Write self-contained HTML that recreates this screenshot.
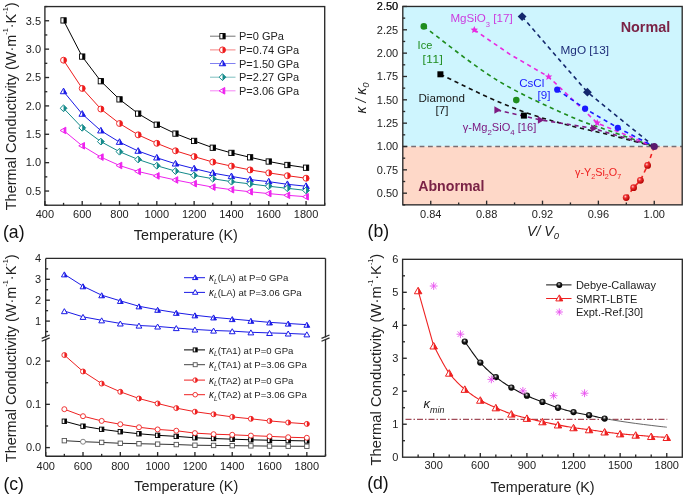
<!DOCTYPE html>
<html><head><meta charset="utf-8"><style>
html,body{margin:0;padding:0;background:#fff;}
svg{display:block;font-family:"Liberation Sans",sans-serif;will-change:transform;}
</style></head><body>
<svg width="685" height="497" viewBox="0 0 685 497">
<defs>
<radialGradient id="gblk" cx="0.45" cy="0.4" r="0.6" fx="0.45" fy="0.35"><stop offset="0" stop-color="#ffffff"/><stop offset="0.22" stop-color="#777"/><stop offset="0.5" stop-color="#151515"/><stop offset="1" stop-color="#000"/></radialGradient>
<radialGradient id="gred" cx="0.38" cy="0.35" r="0.65"><stop offset="0" stop-color="#ffd0d0"/><stop offset="0.35" stop-color="#f03030"/><stop offset="1" stop-color="#b00000"/></radialGradient>
</defs>
<rect width="685" height="497" fill="#fff"/>
<polyline points="63.55,20.42 82.21,56.58 100.86,81.21 119.52,99.37 138.17,113.62 156.82,124.69 175.48,133.6 194.13,140.92 212.79,147.73 231.44,152.9 250.09,157.32 268.75,161.52 287.4,164.99 306.06,167.71" fill="none" stroke="#000000" stroke-width="1.0" />
<polyline points="63.55,60.21 82.21,88.42 100.86,109.02 119.52,123.5 138.17,134.85 156.82,143.3 175.48,150.8 194.13,156.59 212.79,162.04 231.44,166.12 250.09,169.93 268.75,172.88 287.4,175.71 306.06,178.21" fill="none" stroke="#ee1c1c" stroke-width="1.0" />
<polyline points="63.55,91.48 82.21,114.02 100.86,130.7 119.52,142.11 138.17,151.02 156.82,157.78 175.48,163.8 194.13,168.62 212.79,173.1 231.44,176.4 250.09,179.57 268.75,181.67 287.4,184.29 306.06,186.22" fill="none" stroke="#1a1ae6" stroke-width="1.0" />
<polyline points="63.55,108.28 82.21,127.81 100.86,141.6 119.52,151.71 138.17,159.48 156.82,165.73 175.48,171.12 194.13,175.37 212.79,178.72 231.44,181.67 250.09,183.89 268.75,186.22 287.4,188.32 306.06,190.42" fill="none" stroke="#138a8a" stroke-width="1.0" />
<polyline points="63.55,130.48 82.21,145.8 100.86,157.1 119.52,165.5 138.17,171.51 156.82,175.89 175.48,179.97 194.13,183.66 212.79,187.12 231.44,189.68 250.09,191.78 268.75,193.59 287.4,195.3 306.06,196.72" fill="none" stroke="#ee22ee" stroke-width="1.0" />
<rect x="60.9" y="17.77" width="5.3" height="5.3" fill="#fff" stroke="#000000" stroke-width="0.9"/>
<rect x="63.55" y="17.77" width="2.65" height="5.3" fill="#000000"/>
<rect x="79.56" y="53.93" width="5.3" height="5.3" fill="#fff" stroke="#000000" stroke-width="0.9"/>
<rect x="82.21" y="53.93" width="2.65" height="5.3" fill="#000000"/>
<rect x="98.21" y="78.56" width="5.3" height="5.3" fill="#fff" stroke="#000000" stroke-width="0.9"/>
<rect x="100.86" y="78.56" width="2.65" height="5.3" fill="#000000"/>
<rect x="116.87" y="96.72" width="5.3" height="5.3" fill="#fff" stroke="#000000" stroke-width="0.9"/>
<rect x="119.52" y="96.72" width="2.65" height="5.3" fill="#000000"/>
<rect x="135.52" y="110.97" width="5.3" height="5.3" fill="#fff" stroke="#000000" stroke-width="0.9"/>
<rect x="138.17" y="110.97" width="2.65" height="5.3" fill="#000000"/>
<rect x="154.17" y="122.04" width="5.3" height="5.3" fill="#fff" stroke="#000000" stroke-width="0.9"/>
<rect x="156.82" y="122.04" width="2.65" height="5.3" fill="#000000"/>
<rect x="172.83" y="130.95" width="5.3" height="5.3" fill="#fff" stroke="#000000" stroke-width="0.9"/>
<rect x="175.48" y="130.95" width="2.65" height="5.3" fill="#000000"/>
<rect x="191.48" y="138.27" width="5.3" height="5.3" fill="#fff" stroke="#000000" stroke-width="0.9"/>
<rect x="194.13" y="138.27" width="2.65" height="5.3" fill="#000000"/>
<rect x="210.14" y="145.08" width="5.3" height="5.3" fill="#fff" stroke="#000000" stroke-width="0.9"/>
<rect x="212.79" y="145.08" width="2.65" height="5.3" fill="#000000"/>
<rect x="228.79" y="150.25" width="5.3" height="5.3" fill="#fff" stroke="#000000" stroke-width="0.9"/>
<rect x="231.44" y="150.25" width="2.65" height="5.3" fill="#000000"/>
<rect x="247.44" y="154.67" width="5.3" height="5.3" fill="#fff" stroke="#000000" stroke-width="0.9"/>
<rect x="250.09" y="154.67" width="2.65" height="5.3" fill="#000000"/>
<rect x="266.1" y="158.87" width="5.3" height="5.3" fill="#fff" stroke="#000000" stroke-width="0.9"/>
<rect x="268.75" y="158.87" width="2.65" height="5.3" fill="#000000"/>
<rect x="284.75" y="162.34" width="5.3" height="5.3" fill="#fff" stroke="#000000" stroke-width="0.9"/>
<rect x="287.4" y="162.34" width="2.65" height="5.3" fill="#000000"/>
<rect x="303.41" y="165.06" width="5.3" height="5.3" fill="#fff" stroke="#000000" stroke-width="0.9"/>
<rect x="306.06" y="165.06" width="2.65" height="5.3" fill="#000000"/>
<circle cx="63.55" cy="60.21" r="3" fill="#fff" stroke="#ee1c1c" stroke-width="0.9"/>
<path d="M63.55,57.21 A3,3 0 0 1 63.55,63.21 Z" fill="#ee1c1c"/>
<circle cx="82.21" cy="88.42" r="3" fill="#fff" stroke="#ee1c1c" stroke-width="0.9"/>
<path d="M82.21,85.42 A3,3 0 0 1 82.21,91.42 Z" fill="#ee1c1c"/>
<circle cx="100.86" cy="109.02" r="3" fill="#fff" stroke="#ee1c1c" stroke-width="0.9"/>
<path d="M100.86,106.02 A3,3 0 0 1 100.86,112.02 Z" fill="#ee1c1c"/>
<circle cx="119.52" cy="123.5" r="3" fill="#fff" stroke="#ee1c1c" stroke-width="0.9"/>
<path d="M119.52,120.5 A3,3 0 0 1 119.52,126.5 Z" fill="#ee1c1c"/>
<circle cx="138.17" cy="134.85" r="3" fill="#fff" stroke="#ee1c1c" stroke-width="0.9"/>
<path d="M138.17,131.85 A3,3 0 0 1 138.17,137.85 Z" fill="#ee1c1c"/>
<circle cx="156.82" cy="143.3" r="3" fill="#fff" stroke="#ee1c1c" stroke-width="0.9"/>
<path d="M156.82,140.3 A3,3 0 0 1 156.82,146.3 Z" fill="#ee1c1c"/>
<circle cx="175.48" cy="150.8" r="3" fill="#fff" stroke="#ee1c1c" stroke-width="0.9"/>
<path d="M175.48,147.8 A3,3 0 0 1 175.48,153.8 Z" fill="#ee1c1c"/>
<circle cx="194.13" cy="156.59" r="3" fill="#fff" stroke="#ee1c1c" stroke-width="0.9"/>
<path d="M194.13,153.59 A3,3 0 0 1 194.13,159.59 Z" fill="#ee1c1c"/>
<circle cx="212.79" cy="162.04" r="3" fill="#fff" stroke="#ee1c1c" stroke-width="0.9"/>
<path d="M212.79,159.04 A3,3 0 0 1 212.79,165.04 Z" fill="#ee1c1c"/>
<circle cx="231.44" cy="166.12" r="3" fill="#fff" stroke="#ee1c1c" stroke-width="0.9"/>
<path d="M231.44,163.12 A3,3 0 0 1 231.44,169.12 Z" fill="#ee1c1c"/>
<circle cx="250.09" cy="169.93" r="3" fill="#fff" stroke="#ee1c1c" stroke-width="0.9"/>
<path d="M250.09,166.93 A3,3 0 0 1 250.09,172.93 Z" fill="#ee1c1c"/>
<circle cx="268.75" cy="172.88" r="3" fill="#fff" stroke="#ee1c1c" stroke-width="0.9"/>
<path d="M268.75,169.88 A3,3 0 0 1 268.75,175.88 Z" fill="#ee1c1c"/>
<circle cx="287.4" cy="175.71" r="3" fill="#fff" stroke="#ee1c1c" stroke-width="0.9"/>
<path d="M287.4,172.71 A3,3 0 0 1 287.4,178.71 Z" fill="#ee1c1c"/>
<circle cx="306.06" cy="178.21" r="3" fill="#fff" stroke="#ee1c1c" stroke-width="0.9"/>
<path d="M306.06,175.21 A3,3 0 0 1 306.06,181.21 Z" fill="#ee1c1c"/>
<polygon points="63.55,88.11 60.3,93.73 66.8,93.73" fill="#fff" stroke="#1a1ae6" stroke-width="1.0" stroke-linejoin="miter"/>
<polygon points="63.55,88.11 63.55,93.73 66.8,93.73" fill="#1a1ae6"/>
<polygon points="82.21,110.64 78.96,116.27 85.46,116.27" fill="#fff" stroke="#1a1ae6" stroke-width="1.0" stroke-linejoin="miter"/>
<polygon points="82.21,110.64 82.21,116.27 85.46,116.27" fill="#1a1ae6"/>
<polygon points="100.86,127.33 97.61,132.96 104.11,132.96" fill="#fff" stroke="#1a1ae6" stroke-width="1.0" stroke-linejoin="miter"/>
<polygon points="100.86,127.33 100.86,132.96 104.11,132.96" fill="#1a1ae6"/>
<polygon points="119.52,138.74 116.27,144.36 122.77,144.36" fill="#fff" stroke="#1a1ae6" stroke-width="1.0" stroke-linejoin="miter"/>
<polygon points="119.52,138.74 119.52,144.36 122.77,144.36" fill="#1a1ae6"/>
<polygon points="138.17,147.65 134.92,153.28 141.42,153.28" fill="#fff" stroke="#1a1ae6" stroke-width="1.0" stroke-linejoin="miter"/>
<polygon points="138.17,147.65 138.17,153.28 141.42,153.28" fill="#1a1ae6"/>
<polygon points="156.82,154.4 153.57,160.03 160.07,160.03" fill="#fff" stroke="#1a1ae6" stroke-width="1.0" stroke-linejoin="miter"/>
<polygon points="156.82,154.4 156.82,160.03 160.07,160.03" fill="#1a1ae6"/>
<polygon points="175.48,160.42 172.23,166.05 178.73,166.05" fill="#fff" stroke="#1a1ae6" stroke-width="1.0" stroke-linejoin="miter"/>
<polygon points="175.48,160.42 175.48,166.05 178.73,166.05" fill="#1a1ae6"/>
<polygon points="194.13,165.24 190.88,170.87 197.38,170.87" fill="#fff" stroke="#1a1ae6" stroke-width="1.0" stroke-linejoin="miter"/>
<polygon points="194.13,165.24 194.13,170.87 197.38,170.87" fill="#1a1ae6"/>
<polygon points="212.79,169.73 209.54,175.36 216.04,175.36" fill="#fff" stroke="#1a1ae6" stroke-width="1.0" stroke-linejoin="miter"/>
<polygon points="212.79,169.73 212.79,175.36 216.04,175.36" fill="#1a1ae6"/>
<polygon points="231.44,173.02 228.19,178.65 234.69,178.65" fill="#fff" stroke="#1a1ae6" stroke-width="1.0" stroke-linejoin="miter"/>
<polygon points="231.44,173.02 231.44,178.65 234.69,178.65" fill="#1a1ae6"/>
<polygon points="250.09,176.2 246.84,181.83 253.34,181.83" fill="#fff" stroke="#1a1ae6" stroke-width="1.0" stroke-linejoin="miter"/>
<polygon points="250.09,176.2 250.09,181.83 253.34,181.83" fill="#1a1ae6"/>
<polygon points="268.75,178.3 265.5,183.93 272,183.93" fill="#fff" stroke="#1a1ae6" stroke-width="1.0" stroke-linejoin="miter"/>
<polygon points="268.75,178.3 268.75,183.93 272,183.93" fill="#1a1ae6"/>
<polygon points="287.4,180.91 284.15,186.54 290.65,186.54" fill="#fff" stroke="#1a1ae6" stroke-width="1.0" stroke-linejoin="miter"/>
<polygon points="287.4,180.91 287.4,186.54 290.65,186.54" fill="#1a1ae6"/>
<polygon points="306.06,182.84 302.81,188.47 309.31,188.47" fill="#fff" stroke="#1a1ae6" stroke-width="1.0" stroke-linejoin="miter"/>
<polygon points="306.06,182.84 306.06,188.47 309.31,188.47" fill="#1a1ae6"/>
<polygon points="63.55,104.88 66.95,108.28 63.55,111.68 60.15,108.28" fill="#fff" stroke="#138a8a" stroke-width="1.0"/>
<polygon points="63.55,104.88 66.95,108.28 63.55,111.68" fill="#138a8a"/>
<polygon points="82.21,124.41 85.61,127.81 82.21,131.21 78.81,127.81" fill="#fff" stroke="#138a8a" stroke-width="1.0"/>
<polygon points="82.21,124.41 85.61,127.81 82.21,131.21" fill="#138a8a"/>
<polygon points="100.86,138.2 104.26,141.6 100.86,145 97.46,141.6" fill="#fff" stroke="#138a8a" stroke-width="1.0"/>
<polygon points="100.86,138.2 104.26,141.6 100.86,145" fill="#138a8a"/>
<polygon points="119.52,148.31 122.92,151.71 119.52,155.11 116.12,151.71" fill="#fff" stroke="#138a8a" stroke-width="1.0"/>
<polygon points="119.52,148.31 122.92,151.71 119.52,155.11" fill="#138a8a"/>
<polygon points="138.17,156.08 141.57,159.48 138.17,162.88 134.77,159.48" fill="#fff" stroke="#138a8a" stroke-width="1.0"/>
<polygon points="138.17,156.08 141.57,159.48 138.17,162.88" fill="#138a8a"/>
<polygon points="156.82,162.33 160.22,165.73 156.82,169.13 153.42,165.73" fill="#fff" stroke="#138a8a" stroke-width="1.0"/>
<polygon points="156.82,162.33 160.22,165.73 156.82,169.13" fill="#138a8a"/>
<polygon points="175.48,167.72 178.88,171.12 175.48,174.52 172.08,171.12" fill="#fff" stroke="#138a8a" stroke-width="1.0"/>
<polygon points="175.48,167.72 178.88,171.12 175.48,174.52" fill="#138a8a"/>
<polygon points="194.13,171.97 197.53,175.37 194.13,178.77 190.73,175.37" fill="#fff" stroke="#138a8a" stroke-width="1.0"/>
<polygon points="194.13,171.97 197.53,175.37 194.13,178.77" fill="#138a8a"/>
<polygon points="212.79,175.32 216.19,178.72 212.79,182.12 209.39,178.72" fill="#fff" stroke="#138a8a" stroke-width="1.0"/>
<polygon points="212.79,175.32 216.19,178.72 212.79,182.12" fill="#138a8a"/>
<polygon points="231.44,178.27 234.84,181.67 231.44,185.07 228.04,181.67" fill="#fff" stroke="#138a8a" stroke-width="1.0"/>
<polygon points="231.44,178.27 234.84,181.67 231.44,185.07" fill="#138a8a"/>
<polygon points="250.09,180.49 253.49,183.89 250.09,187.29 246.69,183.89" fill="#fff" stroke="#138a8a" stroke-width="1.0"/>
<polygon points="250.09,180.49 253.49,183.89 250.09,187.29" fill="#138a8a"/>
<polygon points="268.75,182.82 272.15,186.22 268.75,189.62 265.35,186.22" fill="#fff" stroke="#138a8a" stroke-width="1.0"/>
<polygon points="268.75,182.82 272.15,186.22 268.75,189.62" fill="#138a8a"/>
<polygon points="287.4,184.92 290.8,188.32 287.4,191.72 284,188.32" fill="#fff" stroke="#138a8a" stroke-width="1.0"/>
<polygon points="287.4,184.92 290.8,188.32 287.4,191.72" fill="#138a8a"/>
<polygon points="306.06,187.02 309.46,190.42 306.06,193.82 302.66,190.42" fill="#fff" stroke="#138a8a" stroke-width="1.0"/>
<polygon points="306.06,187.02 309.46,190.42 306.06,193.82" fill="#138a8a"/>
<polygon points="60.12,130.48 65.84,127.18 65.84,133.78" fill="#fff" stroke="#ee22ee" stroke-width="1.0"/>
<polygon points="63.55,128.5 65.84,127.18 65.84,133.78 63.55,132.46" fill="#ee22ee"/>
<polygon points="78.78,145.8 84.49,142.5 84.49,149.1" fill="#fff" stroke="#ee22ee" stroke-width="1.0"/>
<polygon points="82.21,143.82 84.49,142.5 84.49,149.1 82.21,147.78" fill="#ee22ee"/>
<polygon points="97.43,157.1 103.15,153.8 103.15,160.4" fill="#fff" stroke="#ee22ee" stroke-width="1.0"/>
<polygon points="100.86,155.12 103.15,153.8 103.15,160.4 100.86,159.08" fill="#ee22ee"/>
<polygon points="116.09,165.5 121.8,162.2 121.8,168.8" fill="#fff" stroke="#ee22ee" stroke-width="1.0"/>
<polygon points="119.52,163.52 121.8,162.2 121.8,168.8 119.52,167.48" fill="#ee22ee"/>
<polygon points="134.74,171.51 140.46,168.21 140.46,174.81" fill="#fff" stroke="#ee22ee" stroke-width="1.0"/>
<polygon points="138.17,169.53 140.46,168.21 140.46,174.81 138.17,173.49" fill="#ee22ee"/>
<polygon points="153.39,175.89 159.11,172.59 159.11,179.19" fill="#fff" stroke="#ee22ee" stroke-width="1.0"/>
<polygon points="156.82,173.91 159.11,172.59 159.11,179.19 156.82,177.87" fill="#ee22ee"/>
<polygon points="172.05,179.97 177.76,176.67 177.76,183.27" fill="#fff" stroke="#ee22ee" stroke-width="1.0"/>
<polygon points="175.48,177.99 177.76,176.67 177.76,183.27 175.48,181.95" fill="#ee22ee"/>
<polygon points="190.7,183.66 196.42,180.36 196.42,186.96" fill="#fff" stroke="#ee22ee" stroke-width="1.0"/>
<polygon points="194.13,181.68 196.42,180.36 196.42,186.96 194.13,185.64" fill="#ee22ee"/>
<polygon points="209.36,187.12 215.07,183.82 215.07,190.42" fill="#fff" stroke="#ee22ee" stroke-width="1.0"/>
<polygon points="212.79,185.14 215.07,183.82 215.07,190.42 212.79,189.1" fill="#ee22ee"/>
<polygon points="228.01,189.68 233.73,186.38 233.73,192.98" fill="#fff" stroke="#ee22ee" stroke-width="1.0"/>
<polygon points="231.44,187.7 233.73,186.38 233.73,192.98 231.44,191.66" fill="#ee22ee"/>
<polygon points="246.66,191.78 252.38,188.48 252.38,195.08" fill="#fff" stroke="#ee22ee" stroke-width="1.0"/>
<polygon points="250.09,189.8 252.38,188.48 252.38,195.08 250.09,193.76" fill="#ee22ee"/>
<polygon points="265.32,193.59 271.03,190.29 271.03,196.89" fill="#fff" stroke="#ee22ee" stroke-width="1.0"/>
<polygon points="268.75,191.61 271.03,190.29 271.03,196.89 268.75,195.57" fill="#ee22ee"/>
<polygon points="283.97,195.3 289.69,192 289.69,198.6" fill="#fff" stroke="#ee22ee" stroke-width="1.0"/>
<polygon points="287.4,193.32 289.69,192 289.69,198.6 287.4,197.28" fill="#ee22ee"/>
<polygon points="302.63,196.72 308.34,193.42 308.34,200.02" fill="#fff" stroke="#ee22ee" stroke-width="1.0"/>
<polygon points="306.06,194.74 308.34,193.42 308.34,200.02 306.06,198.7" fill="#ee22ee"/>
<rect x="44.9" y="6.57" width="279.81" height="198.66" fill="none" stroke="#2a2a2a" stroke-width="1.35"/>
<line x1="44.9" y1="205.23" x2="44.9" y2="201.03" stroke="#2a2a2a" stroke-width="1.35" />
<text x="44.9" y="217.8" font-size="11" text-anchor="middle" fill="#222" >400</text>
<line x1="63.55" y1="205.23" x2="63.55" y2="202.83" stroke="#2a2a2a" stroke-width="1.35" />
<line x1="82.21" y1="205.23" x2="82.21" y2="201.03" stroke="#2a2a2a" stroke-width="1.35" />
<text x="82.21" y="217.8" font-size="11" text-anchor="middle" fill="#222" >600</text>
<line x1="100.86" y1="205.23" x2="100.86" y2="202.83" stroke="#2a2a2a" stroke-width="1.35" />
<line x1="119.52" y1="205.23" x2="119.52" y2="201.03" stroke="#2a2a2a" stroke-width="1.35" />
<text x="119.52" y="217.8" font-size="11" text-anchor="middle" fill="#222" >800</text>
<line x1="138.17" y1="205.23" x2="138.17" y2="202.83" stroke="#2a2a2a" stroke-width="1.35" />
<line x1="156.82" y1="205.23" x2="156.82" y2="201.03" stroke="#2a2a2a" stroke-width="1.35" />
<text x="156.82" y="217.8" font-size="11" text-anchor="middle" fill="#222" >1000</text>
<line x1="175.48" y1="205.23" x2="175.48" y2="202.83" stroke="#2a2a2a" stroke-width="1.35" />
<line x1="194.13" y1="205.23" x2="194.13" y2="201.03" stroke="#2a2a2a" stroke-width="1.35" />
<text x="194.13" y="217.8" font-size="11" text-anchor="middle" fill="#222" >1200</text>
<line x1="212.79" y1="205.23" x2="212.79" y2="202.83" stroke="#2a2a2a" stroke-width="1.35" />
<line x1="231.44" y1="205.23" x2="231.44" y2="201.03" stroke="#2a2a2a" stroke-width="1.35" />
<text x="231.44" y="217.8" font-size="11" text-anchor="middle" fill="#222" >1400</text>
<line x1="250.09" y1="205.23" x2="250.09" y2="202.83" stroke="#2a2a2a" stroke-width="1.35" />
<line x1="268.75" y1="205.23" x2="268.75" y2="201.03" stroke="#2a2a2a" stroke-width="1.35" />
<text x="268.75" y="217.8" font-size="11" text-anchor="middle" fill="#222" >1600</text>
<line x1="287.4" y1="205.23" x2="287.4" y2="202.83" stroke="#2a2a2a" stroke-width="1.35" />
<line x1="306.06" y1="205.23" x2="306.06" y2="201.03" stroke="#2a2a2a" stroke-width="1.35" />
<text x="306.06" y="217.8" font-size="11" text-anchor="middle" fill="#222" >1800</text>
<line x1="324.71" y1="205.23" x2="324.71" y2="202.83" stroke="#2a2a2a" stroke-width="1.35" />
<line x1="44.9" y1="205.23" x2="47.3" y2="205.23" stroke="#2a2a2a" stroke-width="1.35" />
<line x1="44.9" y1="191.04" x2="49.1" y2="191.04" stroke="#2a2a2a" stroke-width="1.35" />
<text x="41" y="194.84" font-size="11" text-anchor="end" fill="#222" >0.5</text>
<line x1="44.9" y1="176.85" x2="47.3" y2="176.85" stroke="#2a2a2a" stroke-width="1.35" />
<line x1="44.9" y1="162.66" x2="49.1" y2="162.66" stroke="#2a2a2a" stroke-width="1.35" />
<text x="41" y="166.46" font-size="11" text-anchor="end" fill="#222" >1.0</text>
<line x1="44.9" y1="148.47" x2="47.3" y2="148.47" stroke="#2a2a2a" stroke-width="1.35" />
<line x1="44.9" y1="134.28" x2="49.1" y2="134.28" stroke="#2a2a2a" stroke-width="1.35" />
<text x="41" y="138.08" font-size="11" text-anchor="end" fill="#222" >1.5</text>
<line x1="44.9" y1="120.09" x2="47.3" y2="120.09" stroke="#2a2a2a" stroke-width="1.35" />
<line x1="44.9" y1="105.9" x2="49.1" y2="105.9" stroke="#2a2a2a" stroke-width="1.35" />
<text x="41" y="109.7" font-size="11" text-anchor="end" fill="#222" >2.0</text>
<line x1="44.9" y1="91.71" x2="47.3" y2="91.71" stroke="#2a2a2a" stroke-width="1.35" />
<line x1="44.9" y1="77.52" x2="49.1" y2="77.52" stroke="#2a2a2a" stroke-width="1.35" />
<text x="41" y="81.32" font-size="11" text-anchor="end" fill="#222" >2.5</text>
<line x1="44.9" y1="63.33" x2="47.3" y2="63.33" stroke="#2a2a2a" stroke-width="1.35" />
<line x1="44.9" y1="49.14" x2="49.1" y2="49.14" stroke="#2a2a2a" stroke-width="1.35" />
<text x="41" y="52.94" font-size="11" text-anchor="end" fill="#222" >3.0</text>
<line x1="44.9" y1="34.95" x2="47.3" y2="34.95" stroke="#2a2a2a" stroke-width="1.35" />
<line x1="44.9" y1="20.76" x2="49.1" y2="20.76" stroke="#2a2a2a" stroke-width="1.35" />
<text x="41" y="24.56" font-size="11" text-anchor="end" fill="#222" >3.5</text>
<line x1="44.9" y1="6.57" x2="47.3" y2="6.57" stroke="#2a2a2a" stroke-width="1.35" />
<line x1="210" y1="36.2" x2="235.5" y2="36.2" stroke="#000000" stroke-width="1.0" stroke-opacity="0.55"/>
<rect x="219.85" y="33.55" width="5.3" height="5.3" fill="#fff" stroke="#000000" stroke-width="0.9"/>
<rect x="222.5" y="33.55" width="2.65" height="5.3" fill="#000000"/>
<text x="239" y="40.2" font-size="11" text-anchor="start" fill="#222" >P=0 GPa</text>
<line x1="210" y1="49.9" x2="235.5" y2="49.9" stroke="#ee1c1c" stroke-width="1.0" stroke-opacity="0.55"/>
<circle cx="222.5" cy="49.9" r="3" fill="#fff" stroke="#ee1c1c" stroke-width="0.9"/>
<path d="M222.5,46.9 A3,3 0 0 1 222.5,52.9 Z" fill="#ee1c1c"/>
<text x="239" y="53.9" font-size="11" text-anchor="start" fill="#222" >P=0.74 GPa</text>
<line x1="210" y1="63.5" x2="235.5" y2="63.5" stroke="#1a1ae6" stroke-width="1.0" stroke-opacity="0.55"/>
<polygon points="222.5,60.12 219.25,65.75 225.75,65.75" fill="#fff" stroke="#1a1ae6" stroke-width="1.0" stroke-linejoin="miter"/>
<polygon points="222.5,60.12 222.5,65.75 225.75,65.75" fill="#1a1ae6"/>
<text x="239" y="67.5" font-size="11" text-anchor="start" fill="#222" >P=1.50 GPa</text>
<line x1="210" y1="77.2" x2="235.5" y2="77.2" stroke="#138a8a" stroke-width="1.0" stroke-opacity="0.55"/>
<polygon points="222.5,73.8 225.9,77.2 222.5,80.6 219.1,77.2" fill="#fff" stroke="#138a8a" stroke-width="1.0"/>
<polygon points="222.5,73.8 225.9,77.2 222.5,80.6" fill="#138a8a"/>
<text x="239" y="81.2" font-size="11" text-anchor="start" fill="#222" >P=2.27 GPa</text>
<line x1="210" y1="90.8" x2="235.5" y2="90.8" stroke="#ee22ee" stroke-width="1.0" stroke-opacity="0.55"/>
<polygon points="219.07,90.8 224.79,87.5 224.79,94.1" fill="#fff" stroke="#ee22ee" stroke-width="1.0"/>
<polygon points="222.5,88.82 224.79,87.5 224.79,94.1 222.5,92.78" fill="#ee22ee"/>
<text x="239" y="94.8" font-size="11" text-anchor="start" fill="#222" >P=3.06 GPa</text>
<rect x="402.8" y="6.46" width="279.4" height="140.04" fill="#cef5fe"/>
<rect x="402.8" y="146.5" width="279.4" height="58.35" fill="#fed8c8"/>
<line x1="402.8" y1="146.5" x2="682.2" y2="146.5" stroke="#7a6d72" stroke-width="1.7" stroke-dasharray="4.8 3.6"/>
<path d="M423.8,26.4 C435.8,35.23 471.82,64.58 495.8,79.4 C519.78,94.22 548.67,106.7 567.7,115.3 C586.73,123.9 595.57,125.8 610,131 C624.43,136.2 646.88,143.92 654.26,146.5" fill="none" stroke="#1e8c1e" stroke-width="1.6" stroke-dasharray="4.2 3.7"/>
<path d="M440.4,74.3 C448.67,78.27 475.07,91.48 490,98.1 C504.93,104.72 517.05,109.52 530,114 C542.95,118.48 554.37,121.5 567.7,125 C581.03,128.5 595.57,131.42 610,135 C624.43,138.58 646.88,144.58 654.26,146.5" fill="none" stroke="#111" stroke-width="1.6" stroke-dasharray="4.2 3.7"/>
<polyline points="497,110.1 540.5,119.9 593.7,128.5 654.26,146.5" fill="none" stroke="#7d1a80" stroke-width="1.6" stroke-dasharray="4.2 3.7"/>
<polyline points="474.3,29.9 510,54.4 548.6,76.8 597.4,123.2 654.26,146.5" fill="none" stroke="#e828e0" stroke-width="1.6" stroke-dasharray="4.2 3.7"/>
<polyline points="557.2,89.7 585.1,108.7 617.8,127.8 654.26,146.5" fill="none" stroke="#1a1aff" stroke-width="1.6" stroke-dasharray="4.2 3.7"/>
<polyline points="522.1,16.6 587.4,92.2 654.26,146.5" fill="none" stroke="#14286e" stroke-width="1.6" stroke-dasharray="4.2 3.7"/>
<polyline points="654.26,146.5 647.6,165.4 640.4,180.3 633.6,187.7 626.2,197.6" fill="none" stroke="#ee2020" stroke-width="1.6" stroke-dasharray="4.2 3.7"/>
<circle cx="423.8" cy="26.4" r="3.3" fill="#1e8c1e"/>
<circle cx="516.3" cy="100.1" r="3.3" fill="#1e8c1e"/>
<polygon points="474.3,26 475.33,28.48 478.01,28.69 475.96,30.44 476.59,33.06 474.3,31.65 472.01,33.06 472.64,30.44 470.59,28.69 473.27,28.48" fill="#e828e0"/>
<polygon points="548.6,72.9 549.63,75.38 552.31,75.59 550.26,77.34 550.89,79.96 548.6,78.55 546.31,79.96 546.94,77.34 544.89,75.59 547.57,75.38" fill="#e828e0"/>
<polygon points="597.2,118.9 598.23,121.38 600.91,121.59 598.86,123.34 599.49,125.96 597.2,124.55 594.91,125.96 595.54,123.34 593.49,121.59 596.17,121.38" fill="#e828e0"/>
<polygon points="522.1,12.2 526.5,16.6 522.1,21 517.7,16.6" fill="#14286e"/>
<polygon points="587.4,87.8 591.8,92.2 587.4,96.6 583,92.2" fill="#14286e"/>
<rect x="437.4" y="71.3" width="6" height="6" fill="#000"/>
<rect x="520.9" y="112.6" width="6" height="6" fill="#000"/>
<circle cx="557.2" cy="89.7" r="3.1" fill="#1a1aff"/>
<circle cx="585.1" cy="108.7" r="3.1" fill="#1a1aff"/>
<circle cx="617.8" cy="127.8" r="3.1" fill="#1a1aff"/>
<polygon points="500.9,110.1 494.4,106.35 494.4,113.85" fill="#7d1a80"/>
<polygon points="544.4,119.9 537.9,116.15 537.9,123.65" fill="#7d1a80"/>
<polygon points="597.6,128.2 591.1,124.45 591.1,131.95" fill="#7d1a80"/>
<circle cx="647.6" cy="165.4" r="3.4" fill="url(#gred)"/>
<circle cx="640.4" cy="180.3" r="3.4" fill="url(#gred)"/>
<circle cx="633.6" cy="187.7" r="3.4" fill="url(#gred)"/>
<circle cx="626.2" cy="197.6" r="3.4" fill="url(#gred)"/>
<circle cx="654.26" cy="146.5" r="3.6" fill="#5a1a6e"/>
<rect x="402.8" y="6.46" width="279.4" height="198.39" fill="none" stroke="#2a2a2a" stroke-width="1.35"/>
<line x1="430.74" y1="204.85" x2="430.74" y2="200.65" stroke="#2a2a2a" stroke-width="1.35" />
<text x="430.74" y="218.4" font-size="11" text-anchor="middle" fill="#222" >0.84</text>
<line x1="458.68" y1="204.85" x2="458.68" y2="202.45" stroke="#2a2a2a" stroke-width="1.35" />
<line x1="486.62" y1="204.85" x2="486.62" y2="200.65" stroke="#2a2a2a" stroke-width="1.35" />
<text x="486.62" y="218.4" font-size="11" text-anchor="middle" fill="#222" >0.88</text>
<line x1="514.56" y1="204.85" x2="514.56" y2="202.45" stroke="#2a2a2a" stroke-width="1.35" />
<line x1="542.5" y1="204.85" x2="542.5" y2="200.65" stroke="#2a2a2a" stroke-width="1.35" />
<text x="542.5" y="218.4" font-size="11" text-anchor="middle" fill="#222" >0.92</text>
<line x1="570.44" y1="204.85" x2="570.44" y2="202.45" stroke="#2a2a2a" stroke-width="1.35" />
<line x1="598.38" y1="204.85" x2="598.38" y2="200.65" stroke="#2a2a2a" stroke-width="1.35" />
<text x="598.38" y="218.4" font-size="11" text-anchor="middle" fill="#222" >0.96</text>
<line x1="626.32" y1="204.85" x2="626.32" y2="202.45" stroke="#2a2a2a" stroke-width="1.35" />
<line x1="654.26" y1="204.85" x2="654.26" y2="200.65" stroke="#2a2a2a" stroke-width="1.35" />
<text x="654.26" y="218.4" font-size="11" text-anchor="middle" fill="#222" >1.00</text>
<line x1="402.8" y1="204.85" x2="405.2" y2="204.85" stroke="#2a2a2a" stroke-width="1.35" />
<line x1="402.8" y1="193.18" x2="407" y2="193.18" stroke="#2a2a2a" stroke-width="1.35" />
<text x="398.2" y="196.98" font-size="11" text-anchor="end" fill="#222" >0.50</text>
<line x1="402.8" y1="181.51" x2="405.2" y2="181.51" stroke="#2a2a2a" stroke-width="1.35" />
<line x1="402.8" y1="169.84" x2="407" y2="169.84" stroke="#2a2a2a" stroke-width="1.35" />
<text x="398.2" y="173.64" font-size="11" text-anchor="end" fill="#222" >0.75</text>
<line x1="402.8" y1="158.17" x2="405.2" y2="158.17" stroke="#2a2a2a" stroke-width="1.35" />
<line x1="402.8" y1="146.5" x2="407" y2="146.5" stroke="#2a2a2a" stroke-width="1.35" />
<text x="398.2" y="150.3" font-size="11" text-anchor="end" fill="#222" >1.00</text>
<line x1="402.8" y1="134.83" x2="405.2" y2="134.83" stroke="#2a2a2a" stroke-width="1.35" />
<line x1="402.8" y1="123.16" x2="407" y2="123.16" stroke="#2a2a2a" stroke-width="1.35" />
<text x="398.2" y="126.96" font-size="11" text-anchor="end" fill="#222" >1.25</text>
<line x1="402.8" y1="111.49" x2="405.2" y2="111.49" stroke="#2a2a2a" stroke-width="1.35" />
<line x1="402.8" y1="99.82" x2="407" y2="99.82" stroke="#2a2a2a" stroke-width="1.35" />
<text x="398.2" y="103.62" font-size="11" text-anchor="end" fill="#222" >1.50</text>
<line x1="402.8" y1="88.15" x2="405.2" y2="88.15" stroke="#2a2a2a" stroke-width="1.35" />
<line x1="402.8" y1="76.48" x2="407" y2="76.48" stroke="#2a2a2a" stroke-width="1.35" />
<text x="398.2" y="80.28" font-size="11" text-anchor="end" fill="#222" >1.75</text>
<line x1="402.8" y1="64.81" x2="405.2" y2="64.81" stroke="#2a2a2a" stroke-width="1.35" />
<line x1="402.8" y1="53.14" x2="407" y2="53.14" stroke="#2a2a2a" stroke-width="1.35" />
<text x="398.2" y="56.94" font-size="11" text-anchor="end" fill="#222" >2.00</text>
<line x1="402.8" y1="41.47" x2="405.2" y2="41.47" stroke="#2a2a2a" stroke-width="1.35" />
<line x1="402.8" y1="29.8" x2="407" y2="29.8" stroke="#2a2a2a" stroke-width="1.35" />
<text x="398.2" y="33.6" font-size="11" text-anchor="end" fill="#222" >2.25</text>
<line x1="402.8" y1="18.13" x2="405.2" y2="18.13" stroke="#2a2a2a" stroke-width="1.35" />
<line x1="402.8" y1="6.46" x2="407" y2="6.46" stroke="#2a2a2a" stroke-width="1.35" />
<text x="398.2" y="10.26" font-size="11" text-anchor="end" fill="#222" >2.50</text>
<text x="398.2" y="10.26" font-size="11" text-anchor="end" fill="#222" >2.50</text>
<text x="450.4" y="22.3" font-size="11.6" text-anchor="start" fill="#cc3ade" >MgSiO<tspan font-size="7.6" dy="4.2">3</tspan><tspan dy="-4.2"> [17]</tspan></text>
<text x="417.6" y="49.2" font-size="11.0" text-anchor="start" fill="#1e8c1e" >Ice</text>
<text x="422.6" y="62.9" font-size="11.8" text-anchor="start" fill="#1e8c1e" letter-spacing="0.5">[11]</text>
<text x="560.5" y="53.5" font-size="11.8" text-anchor="start" fill="#1e2d78" >MgO [13]</text>
<text x="620.7" y="31.8" font-size="14.4" text-anchor="start" fill="#7a2346" font-weight="bold">Normal</text>
<text x="418.5" y="102.2" font-size="11.6" text-anchor="start" fill="#1a1a1a" >Diamond</text>
<text x="435.5" y="114.2" font-size="11.6" text-anchor="start" fill="#1a1a1a" >[7]</text>
<text x="519.2" y="87.4" font-size="11.6" text-anchor="start" fill="#1a1aff" >CsCl</text>
<text x="537.6" y="98.8" font-size="11.6" text-anchor="start" fill="#1a1aff" >[9]</text>
<text x="462.8" y="131.4" font-size="11.1" text-anchor="start" fill="#7d1a80" >γ-Mg<tspan font-size="7.8" dy="3.4">2</tspan><tspan dy="-3.4">SiO</tspan><tspan font-size="7.8" dy="3.4">4</tspan><tspan dy="-3.4"> [16]</tspan></text>
<text x="418.2" y="190.8" font-size="14.2" text-anchor="start" fill="#7a2346" font-weight="bold">Abnormal</text>
<text x="575" y="175.6" font-size="10.8" text-anchor="start" fill="#ee2020" >γ-Y<tspan font-size="7.2" dy="3.4">2</tspan><tspan dy="-3.4">Si</tspan><tspan font-size="7.2" dy="3.4">2</tspan><tspan dy="-3.4">O</tspan><tspan font-size="7.2" dy="3.4">7</tspan></text>
<text x="527" y="235.8" font-size="14.2" text-anchor="start" fill="#222" font-style="italic">V/ V<tspan font-size="9.5" dy="3.5">0</tspan></text>
<text transform="translate(365.8,98) rotate(-90)" font-size="14" text-anchor="middle" fill="#222" font-style="italic">κ / κ<tspan font-size="9.5" dy="3.5">0</tspan></text>
<polyline points="64.35,274.28 83.01,286.2 101.66,295.18 120.31,300.83 138.97,306.26 157.62,309.71 176.27,312.74 194.92,315.25 213.58,317.34 232.23,319.01 250.88,320.68 269.54,322.35 288.19,323.5 306.84,324.65" fill="none" stroke="#1a1ae6" stroke-width="1.0" />
<polyline points="64.35,311.07 83.01,316.82 101.66,320.26 120.31,323.4 138.97,325.49 157.62,326.43 176.27,328 194.92,329.46 213.58,330.5 232.23,331.13 250.88,332.28 269.54,332.91 288.19,333.43 306.84,334.27" fill="none" stroke="#1a1ae6" stroke-width="1.0" />
<polyline points="64.35,355.05 83.01,371.48 101.66,383.59 120.31,391.81 138.97,398.51 157.62,403.49 176.27,408.11 194.92,411.7 213.58,414.3 232.23,416.89 250.88,418.8 269.54,420.91 288.19,422.52 306.84,423.9" fill="none" stroke="#ee2020" stroke-width="1.0" />
<polyline points="64.35,409.19 83.01,416.2 101.66,420.91 120.31,424.25 138.97,427.27 157.62,429.44 176.27,430.73 194.92,433.11 213.58,434.19 232.23,434.8 250.88,435.62 269.54,436.36 288.19,437.22 306.84,437.78" fill="none" stroke="#ee2020" stroke-width="1.0" />
<polyline points="64.35,421.22 83.01,426.19 101.66,429.31 120.31,431.73 138.97,433.76 157.62,435.32 176.27,436.36 194.92,437.78 213.58,438.52 232.23,439.17 250.88,439.81 269.54,440.25 288.19,440.59 306.84,440.9" fill="none" stroke="#000" stroke-width="1.0" />
<polyline points="64.35,440.68 83.01,441.72 101.66,442.41 120.31,443.28 138.97,443.71 157.62,444.14 176.27,444.57 194.92,445.22 213.58,445.44 232.23,445.65 250.88,445.87 269.54,446.09 288.19,446.22 306.84,446.3" fill="none" stroke="#333" stroke-width="1.0" />
<polygon points="64.35,271.87 61.45,276.89 67.25,276.89" fill="#fff" stroke="#1a1ae6" stroke-width="1.0" stroke-linejoin="miter"/>
<polygon points="64.35,271.87 64.35,276.89 67.25,276.89" fill="#1a1ae6"/>
<polygon points="83.01,283.78 80.11,288.81 85.91,288.81" fill="#fff" stroke="#1a1ae6" stroke-width="1.0" stroke-linejoin="miter"/>
<polygon points="83.01,283.78 83.01,288.81 85.91,288.81" fill="#1a1ae6"/>
<polygon points="101.66,292.77 98.76,297.79 104.56,297.79" fill="#fff" stroke="#1a1ae6" stroke-width="1.0" stroke-linejoin="miter"/>
<polygon points="101.66,292.77 101.66,297.79 104.56,297.79" fill="#1a1ae6"/>
<polygon points="120.31,298.41 117.41,303.44 123.21,303.44" fill="#fff" stroke="#1a1ae6" stroke-width="1.0" stroke-linejoin="miter"/>
<polygon points="120.31,298.41 120.31,303.44 123.21,303.44" fill="#1a1ae6"/>
<polygon points="138.97,303.85 136.06,308.87 141.87,308.87" fill="#fff" stroke="#1a1ae6" stroke-width="1.0" stroke-linejoin="miter"/>
<polygon points="138.97,303.85 138.97,308.87 141.87,308.87" fill="#1a1ae6"/>
<polygon points="157.62,307.3 154.72,312.32 160.52,312.32" fill="#fff" stroke="#1a1ae6" stroke-width="1.0" stroke-linejoin="miter"/>
<polygon points="157.62,307.3 157.62,312.32 160.52,312.32" fill="#1a1ae6"/>
<polygon points="176.27,310.33 173.37,315.35 179.17,315.35" fill="#fff" stroke="#1a1ae6" stroke-width="1.0" stroke-linejoin="miter"/>
<polygon points="176.27,310.33 176.27,315.35 179.17,315.35" fill="#1a1ae6"/>
<polygon points="194.92,312.83 192.02,317.86 197.82,317.86" fill="#fff" stroke="#1a1ae6" stroke-width="1.0" stroke-linejoin="miter"/>
<polygon points="194.92,312.83 194.92,317.86 197.82,317.86" fill="#1a1ae6"/>
<polygon points="213.58,314.92 210.68,319.95 216.48,319.95" fill="#fff" stroke="#1a1ae6" stroke-width="1.0" stroke-linejoin="miter"/>
<polygon points="213.58,314.92 213.58,319.95 216.48,319.95" fill="#1a1ae6"/>
<polygon points="232.23,316.6 229.33,321.62 235.13,321.62" fill="#fff" stroke="#1a1ae6" stroke-width="1.0" stroke-linejoin="miter"/>
<polygon points="232.23,316.6 232.23,321.62 235.13,321.62" fill="#1a1ae6"/>
<polygon points="250.88,318.27 247.98,323.29 253.78,323.29" fill="#fff" stroke="#1a1ae6" stroke-width="1.0" stroke-linejoin="miter"/>
<polygon points="250.88,318.27 250.88,323.29 253.78,323.29" fill="#1a1ae6"/>
<polygon points="269.54,319.94 266.64,324.96 272.44,324.96" fill="#fff" stroke="#1a1ae6" stroke-width="1.0" stroke-linejoin="miter"/>
<polygon points="269.54,319.94 269.54,324.96 272.44,324.96" fill="#1a1ae6"/>
<polygon points="288.19,321.09 285.29,326.11 291.09,326.11" fill="#fff" stroke="#1a1ae6" stroke-width="1.0" stroke-linejoin="miter"/>
<polygon points="288.19,321.09 288.19,326.11 291.09,326.11" fill="#1a1ae6"/>
<polygon points="306.84,322.24 303.94,327.26 309.74,327.26" fill="#fff" stroke="#1a1ae6" stroke-width="1.0" stroke-linejoin="miter"/>
<polygon points="306.84,322.24 306.84,327.26 309.74,327.26" fill="#1a1ae6"/>
<polygon points="64.35,308.65 61.45,313.68 67.25,313.68" fill="#fff" stroke="#1a1ae6" stroke-width="1.0" stroke-linejoin="miter"/>
<polygon points="83.01,314.4 80.11,319.42 85.91,319.42" fill="#fff" stroke="#1a1ae6" stroke-width="1.0" stroke-linejoin="miter"/>
<polygon points="101.66,317.85 98.76,322.87 104.56,322.87" fill="#fff" stroke="#1a1ae6" stroke-width="1.0" stroke-linejoin="miter"/>
<polygon points="120.31,320.99 117.41,326.01 123.21,326.01" fill="#fff" stroke="#1a1ae6" stroke-width="1.0" stroke-linejoin="miter"/>
<polygon points="138.97,323.08 136.06,328.1 141.87,328.1" fill="#fff" stroke="#1a1ae6" stroke-width="1.0" stroke-linejoin="miter"/>
<polygon points="157.62,324.02 154.72,329.04 160.52,329.04" fill="#fff" stroke="#1a1ae6" stroke-width="1.0" stroke-linejoin="miter"/>
<polygon points="176.27,325.58 173.37,330.61 179.17,330.61" fill="#fff" stroke="#1a1ae6" stroke-width="1.0" stroke-linejoin="miter"/>
<polygon points="194.92,327.05 192.02,332.07 197.82,332.07" fill="#fff" stroke="#1a1ae6" stroke-width="1.0" stroke-linejoin="miter"/>
<polygon points="213.58,328.09 210.68,333.11 216.48,333.11" fill="#fff" stroke="#1a1ae6" stroke-width="1.0" stroke-linejoin="miter"/>
<polygon points="232.23,328.72 229.33,333.74 235.13,333.74" fill="#fff" stroke="#1a1ae6" stroke-width="1.0" stroke-linejoin="miter"/>
<polygon points="250.88,329.87 247.98,334.89 253.78,334.89" fill="#fff" stroke="#1a1ae6" stroke-width="1.0" stroke-linejoin="miter"/>
<polygon points="269.54,330.49 266.64,335.52 272.44,335.52" fill="#fff" stroke="#1a1ae6" stroke-width="1.0" stroke-linejoin="miter"/>
<polygon points="288.19,331.02 285.29,336.04 291.09,336.04" fill="#fff" stroke="#1a1ae6" stroke-width="1.0" stroke-linejoin="miter"/>
<polygon points="306.84,331.85 303.94,336.88 309.74,336.88" fill="#fff" stroke="#1a1ae6" stroke-width="1.0" stroke-linejoin="miter"/>
<rect x="62.15" y="438.48" width="4.4" height="4.4" fill="#fff" stroke="#555" stroke-width="0.9"/>
<circle cx="83.01" cy="441.72" r="2.5" fill="#fff" stroke="#777" stroke-width="0.9"/>
<rect x="99.46" y="440.21" width="4.4" height="4.4" fill="#fff" stroke="#555" stroke-width="0.9"/>
<rect x="118.11" y="441.08" width="4.4" height="4.4" fill="#fff" stroke="#555" stroke-width="0.9"/>
<rect x="136.77" y="441.51" width="4.4" height="4.4" fill="#fff" stroke="#555" stroke-width="0.9"/>
<rect x="155.42" y="441.94" width="4.4" height="4.4" fill="#fff" stroke="#555" stroke-width="0.9"/>
<rect x="174.07" y="442.37" width="4.4" height="4.4" fill="#fff" stroke="#555" stroke-width="0.9"/>
<rect x="192.72" y="443.02" width="4.4" height="4.4" fill="#fff" stroke="#555" stroke-width="0.9"/>
<rect x="211.38" y="443.24" width="4.4" height="4.4" fill="#fff" stroke="#555" stroke-width="0.9"/>
<rect x="230.03" y="443.45" width="4.4" height="4.4" fill="#fff" stroke="#555" stroke-width="0.9"/>
<rect x="248.68" y="443.67" width="4.4" height="4.4" fill="#fff" stroke="#555" stroke-width="0.9"/>
<rect x="267.34" y="443.89" width="4.4" height="4.4" fill="#fff" stroke="#555" stroke-width="0.9"/>
<rect x="285.99" y="444.02" width="4.4" height="4.4" fill="#fff" stroke="#555" stroke-width="0.9"/>
<rect x="304.64" y="444.1" width="4.4" height="4.4" fill="#fff" stroke="#555" stroke-width="0.9"/>
<rect x="62.15" y="419.02" width="4.4" height="4.4" fill="#fff" stroke="#000" stroke-width="0.9"/>
<rect x="64.35" y="419.02" width="2.2" height="4.4" fill="#000"/>
<rect x="80.81" y="423.99" width="4.4" height="4.4" fill="#fff" stroke="#000" stroke-width="0.9"/>
<rect x="83.01" y="423.99" width="2.2" height="4.4" fill="#000"/>
<rect x="99.46" y="427.11" width="4.4" height="4.4" fill="#fff" stroke="#000" stroke-width="0.9"/>
<rect x="101.66" y="427.11" width="2.2" height="4.4" fill="#000"/>
<rect x="118.11" y="429.53" width="4.4" height="4.4" fill="#fff" stroke="#000" stroke-width="0.9"/>
<rect x="120.31" y="429.53" width="2.2" height="4.4" fill="#000"/>
<rect x="136.77" y="431.56" width="4.4" height="4.4" fill="#fff" stroke="#000" stroke-width="0.9"/>
<rect x="138.97" y="431.56" width="2.2" height="4.4" fill="#000"/>
<rect x="155.42" y="433.12" width="4.4" height="4.4" fill="#fff" stroke="#000" stroke-width="0.9"/>
<rect x="157.62" y="433.12" width="2.2" height="4.4" fill="#000"/>
<rect x="174.07" y="434.16" width="4.4" height="4.4" fill="#fff" stroke="#000" stroke-width="0.9"/>
<rect x="176.27" y="434.16" width="2.2" height="4.4" fill="#000"/>
<rect x="192.72" y="435.58" width="4.4" height="4.4" fill="#fff" stroke="#000" stroke-width="0.9"/>
<rect x="194.92" y="435.58" width="2.2" height="4.4" fill="#000"/>
<rect x="211.38" y="436.32" width="4.4" height="4.4" fill="#fff" stroke="#000" stroke-width="0.9"/>
<rect x="213.58" y="436.32" width="2.2" height="4.4" fill="#000"/>
<rect x="230.03" y="436.97" width="4.4" height="4.4" fill="#fff" stroke="#000" stroke-width="0.9"/>
<rect x="232.23" y="436.97" width="2.2" height="4.4" fill="#000"/>
<rect x="248.68" y="437.62" width="4.4" height="4.4" fill="#fff" stroke="#000" stroke-width="0.9"/>
<rect x="250.88" y="437.62" width="2.2" height="4.4" fill="#000"/>
<rect x="267.34" y="438.05" width="4.4" height="4.4" fill="#fff" stroke="#000" stroke-width="0.9"/>
<rect x="269.54" y="438.05" width="2.2" height="4.4" fill="#000"/>
<rect x="285.99" y="438.39" width="4.4" height="4.4" fill="#fff" stroke="#000" stroke-width="0.9"/>
<rect x="288.19" y="438.39" width="2.2" height="4.4" fill="#000"/>
<rect x="304.64" y="438.7" width="4.4" height="4.4" fill="#fff" stroke="#000" stroke-width="0.9"/>
<rect x="306.84" y="438.7" width="2.2" height="4.4" fill="#000"/>
<circle cx="64.35" cy="409.19" r="2.5" fill="#fff" stroke="#ee2020" stroke-width="0.9"/>
<circle cx="83.01" cy="416.2" r="2.5" fill="#fff" stroke="#ee2020" stroke-width="0.9"/>
<circle cx="101.66" cy="420.91" r="2.5" fill="#fff" stroke="#ee2020" stroke-width="0.9"/>
<circle cx="120.31" cy="424.25" r="2.5" fill="#fff" stroke="#ee2020" stroke-width="0.9"/>
<circle cx="138.97" cy="427.27" r="2.5" fill="#fff" stroke="#ee2020" stroke-width="0.9"/>
<circle cx="157.62" cy="429.44" r="2.5" fill="#fff" stroke="#ee2020" stroke-width="0.9"/>
<circle cx="176.27" cy="430.73" r="2.5" fill="#fff" stroke="#ee2020" stroke-width="0.9"/>
<circle cx="194.92" cy="433.11" r="2.5" fill="#fff" stroke="#ee2020" stroke-width="0.9"/>
<circle cx="213.58" cy="434.19" r="2.5" fill="#fff" stroke="#ee2020" stroke-width="0.9"/>
<circle cx="232.23" cy="434.8" r="2.5" fill="#fff" stroke="#ee2020" stroke-width="0.9"/>
<circle cx="250.88" cy="435.62" r="2.5" fill="#fff" stroke="#ee2020" stroke-width="0.9"/>
<circle cx="269.54" cy="436.36" r="2.5" fill="#fff" stroke="#ee2020" stroke-width="0.9"/>
<circle cx="288.19" cy="437.22" r="2.5" fill="#fff" stroke="#ee2020" stroke-width="0.9"/>
<circle cx="306.84" cy="437.78" r="2.5" fill="#fff" stroke="#ee2020" stroke-width="0.9"/>
<circle cx="64.35" cy="355.05" r="2.5" fill="#fff" stroke="#ee2020" stroke-width="0.9"/>
<path d="M64.35,352.55 A2.5,2.5 0 0 1 64.35,357.55 Z" fill="#ee2020"/>
<circle cx="83.01" cy="371.48" r="2.5" fill="#fff" stroke="#ee2020" stroke-width="0.9"/>
<path d="M83.01,368.98 A2.5,2.5 0 0 1 83.01,373.98 Z" fill="#ee2020"/>
<circle cx="101.66" cy="383.59" r="2.5" fill="#fff" stroke="#ee2020" stroke-width="0.9"/>
<path d="M101.66,381.09 A2.5,2.5 0 0 1 101.66,386.09 Z" fill="#ee2020"/>
<circle cx="120.31" cy="391.81" r="2.5" fill="#fff" stroke="#ee2020" stroke-width="0.9"/>
<path d="M120.31,389.31 A2.5,2.5 0 0 1 120.31,394.31 Z" fill="#ee2020"/>
<circle cx="138.97" cy="398.51" r="2.5" fill="#fff" stroke="#ee2020" stroke-width="0.9"/>
<path d="M138.97,396.01 A2.5,2.5 0 0 1 138.97,401.01 Z" fill="#ee2020"/>
<circle cx="157.62" cy="403.49" r="2.5" fill="#fff" stroke="#ee2020" stroke-width="0.9"/>
<path d="M157.62,400.99 A2.5,2.5 0 0 1 157.62,405.99 Z" fill="#ee2020"/>
<circle cx="176.27" cy="408.11" r="2.5" fill="#fff" stroke="#ee2020" stroke-width="0.9"/>
<path d="M176.27,405.61 A2.5,2.5 0 0 1 176.27,410.61 Z" fill="#ee2020"/>
<circle cx="194.92" cy="411.7" r="2.5" fill="#fff" stroke="#ee2020" stroke-width="0.9"/>
<path d="M194.92,409.2 A2.5,2.5 0 0 1 194.92,414.2 Z" fill="#ee2020"/>
<circle cx="213.58" cy="414.3" r="2.5" fill="#fff" stroke="#ee2020" stroke-width="0.9"/>
<path d="M213.58,411.8 A2.5,2.5 0 0 1 213.58,416.8 Z" fill="#ee2020"/>
<circle cx="232.23" cy="416.89" r="2.5" fill="#fff" stroke="#ee2020" stroke-width="0.9"/>
<path d="M232.23,414.39 A2.5,2.5 0 0 1 232.23,419.39 Z" fill="#ee2020"/>
<circle cx="250.88" cy="418.8" r="2.5" fill="#fff" stroke="#ee2020" stroke-width="0.9"/>
<path d="M250.88,416.3 A2.5,2.5 0 0 1 250.88,421.3 Z" fill="#ee2020"/>
<circle cx="269.54" cy="420.91" r="2.5" fill="#fff" stroke="#ee2020" stroke-width="0.9"/>
<path d="M269.54,418.41 A2.5,2.5 0 0 1 269.54,423.41 Z" fill="#ee2020"/>
<circle cx="288.19" cy="422.52" r="2.5" fill="#fff" stroke="#ee2020" stroke-width="0.9"/>
<path d="M288.19,420.02 A2.5,2.5 0 0 1 288.19,425.02 Z" fill="#ee2020"/>
<circle cx="306.84" cy="423.9" r="2.5" fill="#fff" stroke="#ee2020" stroke-width="0.9"/>
<path d="M306.84,421.4 A2.5,2.5 0 0 1 306.84,426.4 Z" fill="#ee2020"/>
<line x1="45.7" y1="258.4" x2="325.5" y2="258.4" stroke="#2a2a2a" stroke-width="1.35" />
<line x1="45.7" y1="456.25" x2="325.5" y2="456.25" stroke="#2a2a2a" stroke-width="1.35" />
<line x1="45.7" y1="258.4" x2="45.7" y2="337.38" stroke="#2a2a2a" stroke-width="1.35" />
<line x1="45.7" y1="338.88" x2="45.7" y2="456.25" stroke="#2a2a2a" stroke-width="1.35" />
<line x1="325.5" y1="258.4" x2="325.5" y2="337.38" stroke="#2a2a2a" stroke-width="1.35" />
<line x1="325.5" y1="338.88" x2="325.5" y2="456.25" stroke="#2a2a2a" stroke-width="1.35" />
<line x1="41.7" y1="338.38" x2="49.7" y2="334.97" stroke="#2a2a2a" stroke-width="1.2" />
<line x1="41.7" y1="341.28" x2="49.7" y2="337.88" stroke="#2a2a2a" stroke-width="1.2" />
<line x1="321.5" y1="338.38" x2="329.5" y2="334.97" stroke="#2a2a2a" stroke-width="1.2" />
<line x1="321.5" y1="341.28" x2="329.5" y2="337.88" stroke="#2a2a2a" stroke-width="1.2" />
<line x1="45.7" y1="456.25" x2="45.7" y2="452.05" stroke="#2a2a2a" stroke-width="1.35" />
<text x="45.7" y="469.7" font-size="11" text-anchor="middle" fill="#222" >400</text>
<line x1="64.35" y1="456.25" x2="64.35" y2="453.85" stroke="#2a2a2a" stroke-width="1.35" />
<line x1="83.01" y1="456.25" x2="83.01" y2="452.05" stroke="#2a2a2a" stroke-width="1.35" />
<text x="83.01" y="469.7" font-size="11" text-anchor="middle" fill="#222" >600</text>
<line x1="101.66" y1="456.25" x2="101.66" y2="453.85" stroke="#2a2a2a" stroke-width="1.35" />
<line x1="120.31" y1="456.25" x2="120.31" y2="452.05" stroke="#2a2a2a" stroke-width="1.35" />
<text x="120.31" y="469.7" font-size="11" text-anchor="middle" fill="#222" >800</text>
<line x1="138.97" y1="456.25" x2="138.97" y2="453.85" stroke="#2a2a2a" stroke-width="1.35" />
<line x1="157.62" y1="456.25" x2="157.62" y2="452.05" stroke="#2a2a2a" stroke-width="1.35" />
<text x="157.62" y="469.7" font-size="11" text-anchor="middle" fill="#222" >1000</text>
<line x1="176.27" y1="456.25" x2="176.27" y2="453.85" stroke="#2a2a2a" stroke-width="1.35" />
<line x1="194.92" y1="456.25" x2="194.92" y2="452.05" stroke="#2a2a2a" stroke-width="1.35" />
<text x="194.92" y="469.7" font-size="11" text-anchor="middle" fill="#222" >1200</text>
<line x1="213.58" y1="456.25" x2="213.58" y2="453.85" stroke="#2a2a2a" stroke-width="1.35" />
<line x1="232.23" y1="456.25" x2="232.23" y2="452.05" stroke="#2a2a2a" stroke-width="1.35" />
<text x="232.23" y="469.7" font-size="11" text-anchor="middle" fill="#222" >1400</text>
<line x1="250.88" y1="456.25" x2="250.88" y2="453.85" stroke="#2a2a2a" stroke-width="1.35" />
<line x1="269.54" y1="456.25" x2="269.54" y2="452.05" stroke="#2a2a2a" stroke-width="1.35" />
<text x="269.54" y="469.7" font-size="11" text-anchor="middle" fill="#222" >1600</text>
<line x1="288.19" y1="456.25" x2="288.19" y2="453.85" stroke="#2a2a2a" stroke-width="1.35" />
<line x1="306.84" y1="456.25" x2="306.84" y2="452.05" stroke="#2a2a2a" stroke-width="1.35" />
<text x="306.84" y="469.7" font-size="11" text-anchor="middle" fill="#222" >1800</text>
<line x1="325.5" y1="456.25" x2="325.5" y2="453.85" stroke="#2a2a2a" stroke-width="1.35" />
<line x1="45.7" y1="331.55" x2="48.1" y2="331.55" stroke="#2a2a2a" stroke-width="1.35" />
<line x1="45.7" y1="321.1" x2="49.9" y2="321.1" stroke="#2a2a2a" stroke-width="1.35" />
<text x="41.2" y="324.9" font-size="11" text-anchor="end" fill="#222" >1</text>
<line x1="45.7" y1="310.65" x2="48.1" y2="310.65" stroke="#2a2a2a" stroke-width="1.35" />
<line x1="45.7" y1="300.2" x2="49.9" y2="300.2" stroke="#2a2a2a" stroke-width="1.35" />
<text x="41.2" y="304" font-size="11" text-anchor="end" fill="#222" >2</text>
<line x1="45.7" y1="289.75" x2="48.1" y2="289.75" stroke="#2a2a2a" stroke-width="1.35" />
<line x1="45.7" y1="279.3" x2="49.9" y2="279.3" stroke="#2a2a2a" stroke-width="1.35" />
<text x="41.2" y="283.1" font-size="11" text-anchor="end" fill="#222" >3</text>
<line x1="45.7" y1="268.85" x2="48.1" y2="268.85" stroke="#2a2a2a" stroke-width="1.35" />
<text x="41.2" y="262.2" font-size="11" text-anchor="end" fill="#222" >4</text>
<line x1="45.7" y1="447.6" x2="49.9" y2="447.6" stroke="#2a2a2a" stroke-width="1.35" />
<text x="41.2" y="451.4" font-size="11" text-anchor="end" fill="#222" >0.0</text>
<line x1="45.7" y1="425.98" x2="48.1" y2="425.98" stroke="#2a2a2a" stroke-width="1.35" />
<line x1="45.7" y1="404.35" x2="49.9" y2="404.35" stroke="#2a2a2a" stroke-width="1.35" />
<text x="41.2" y="408.15" font-size="11" text-anchor="end" fill="#222" >0.1</text>
<line x1="45.7" y1="382.73" x2="48.1" y2="382.73" stroke="#2a2a2a" stroke-width="1.35" />
<line x1="45.7" y1="361.1" x2="49.9" y2="361.1" stroke="#2a2a2a" stroke-width="1.35" />
<text x="41.2" y="364.9" font-size="11" text-anchor="end" fill="#222" >0.2</text>
<line x1="184" y1="277.7" x2="205" y2="277.7" stroke="#1a1ae6" stroke-width="1.0" />
<polygon points="195.2,274.89 192.5,279.57 197.9,279.57" fill="#fff" stroke="#1a1ae6" stroke-width="1.0" stroke-linejoin="miter"/>
<polygon points="195.2,274.89 195.2,279.57 197.9,279.57" fill="#1a1ae6"/>
<text x="209" y="281.3" font-size="9.6" text-anchor="start" fill="#222" ><tspan font-style="italic" font-size="10">κ</tspan><tspan font-style="italic" font-size="6.5" dy="2.2">L</tspan><tspan dy="-2.2">(LA) at P=0 GPa</tspan></text>
<line x1="184" y1="292.4" x2="205" y2="292.4" stroke="#1a1ae6" stroke-width="1.0" />
<polygon points="195.2,289.59 192.5,294.27 197.9,294.27" fill="#fff" stroke="#1a1ae6" stroke-width="1.0" stroke-linejoin="miter"/>
<text x="209" y="296" font-size="9.6" text-anchor="start" fill="#222" ><tspan font-style="italic" font-size="10">κ</tspan><tspan font-style="italic" font-size="6.5" dy="2.2">L</tspan><tspan dy="-2.2">(LA) at P=3.06 GPa</tspan></text>
<line x1="184" y1="349.9" x2="205" y2="349.9" stroke="#000" stroke-width="1.0" />
<rect x="193.2" y="347.9" width="4" height="4" fill="#fff" stroke="#000" stroke-width="0.9"/>
<rect x="195.2" y="347.9" width="2" height="4" fill="#000"/>
<text x="209" y="353.5" font-size="9.6" text-anchor="start" fill="#222" ><tspan font-style="italic" font-size="10">κ</tspan><tspan font-style="italic" font-size="6.5" dy="2.2">L</tspan><tspan dy="-2.2">(TA1) at P=0 GPa</tspan></text>
<line x1="184" y1="364.7" x2="205" y2="364.7" stroke="#444" stroke-width="1.0" />
<rect x="193.2" y="362.7" width="4" height="4" fill="#fff" stroke="#555" stroke-width="0.9"/>
<text x="209" y="368.3" font-size="9.6" text-anchor="start" fill="#222" ><tspan font-style="italic" font-size="10">κ</tspan><tspan font-style="italic" font-size="6.5" dy="2.2">L</tspan><tspan dy="-2.2">(TA1) at P=3.06 GPa</tspan></text>
<line x1="184" y1="380.1" x2="205" y2="380.1" stroke="#ee2020" stroke-width="1.0" />
<circle cx="195.2" cy="380.1" r="2.3" fill="#fff" stroke="#ee2020" stroke-width="0.9"/>
<path d="M195.2,377.8 A2.3,2.3 0 0 1 195.2,382.4 Z" fill="#ee2020"/>
<text x="209" y="383.7" font-size="9.6" text-anchor="start" fill="#222" ><tspan font-style="italic" font-size="10">κ</tspan><tspan font-style="italic" font-size="6.5" dy="2.2">L</tspan><tspan dy="-2.2">(TA2) at P=0 GPa</tspan></text>
<line x1="184" y1="394.7" x2="205" y2="394.7" stroke="#ee2020" stroke-width="1.0" />
<circle cx="195.2" cy="394.7" r="2.3" fill="#fff" stroke="#ee2020" stroke-width="0.9"/>
<text x="209" y="398.3" font-size="9.6" text-anchor="start" fill="#222" ><tspan font-style="italic" font-size="10">κ</tspan><tspan font-style="italic" font-size="6.5" dy="2.2">L</tspan><tspan dy="-2.2">(TA2) at P=3.06 GPa</tspan></text>
<line x1="405.5" y1="419.31" x2="667.3" y2="419.31" stroke="#8a2030" stroke-width="1.0" stroke-dasharray="6 2 1.5 2"/>
<path d="M604.61,418.61 C605.9,418.84 609.79,419.52 612.38,419.94 C614.97,420.37 617.56,420.79 620.15,421.19 C622.74,421.59 625.33,421.97 627.92,422.35 C630.51,422.72 633.1,423.08 635.69,423.44 C638.27,423.79 640.86,424.13 643.45,424.46 C646.04,424.79 648.63,425.11 651.22,425.42 C653.81,425.73 656.4,426.04 658.99,426.33 C661.58,426.62 665.47,427.05 666.76,427.19" fill="none" stroke="#555" stroke-width="0.9" />
<polyline points="418.14,290.65 433.68,345.89" fill="none" stroke="#ee2020" stroke-width="1.1" />
<polyline points="433.68,345.89 434.97,348.2 436.27,350.59 437.56,353.02 438.86,355.48 440.15,357.93 441.45,360.36 442.74,362.75 444.04,365.06 445.33,367.27 446.63,369.37 447.92,371.32 449.22,373.1 450.51,374.76 451.81,376.34 453.1,377.87 454.4,379.33 455.69,380.74 456.99,382.09 458.28,383.39 459.58,384.65 460.87,385.86 462.17,387.03 463.46,388.16 464.76,389.26 466.05,390.33 467.35,391.37 468.64,392.37 469.94,393.35 471.23,394.29 472.53,395.21 473.82,396.1 475.12,396.96 476.41,397.8 477.71,398.6 479,399.39 480.3,400.14 481.59,400.88 482.88,401.58 484.18,402.27 485.47,402.93 486.77,403.57 488.06,404.2 489.36,404.81 490.65,405.41 491.95,406 493.24,406.58 494.54,407.16 495.83,407.73 497.13,408.3 498.42,408.87 499.72,409.44 501.01,409.99 502.31,410.54 503.6,411.08 504.9,411.61 506.19,412.13 507.49,412.62 508.78,413.1 510.08,413.56 511.37,414 512.67,414.41 513.96,414.81 515.26,415.2 516.55,415.58 517.85,415.94 519.14,416.3 520.44,416.65 521.73,416.98 523.03,417.32 524.32,417.64 525.62,417.96 526.91,418.28 528.21,418.6 529.5,418.9 530.8,419.2 532.09,419.49 533.39,419.78 534.68,420.06 535.98,420.34 537.27,420.62 538.57,420.89 539.86,421.17 541.16,421.44 542.45,421.71 543.75,421.99 545.04,422.26 546.34,422.53 547.63,422.8 548.93,423.07 550.22,423.34 551.52,423.6 552.81,423.86 554.11,424.12 555.4,424.38 556.7,424.63 557.99,424.88 559.28,425.13 560.58,425.38 561.87,425.63 563.17,425.87 564.46,426.12 565.76,426.36 567.05,426.6 568.35,426.83 569.64,427.05 570.94,427.27 572.23,427.48 573.53,427.68 574.82,427.87 576.12,428.05 577.41,428.23 578.71,428.4 580,428.56 581.3,428.72 582.59,428.88 583.89,429.03 585.18,429.19 586.48,429.36 587.77,429.52 589.07,429.69 590.36,429.87 591.66,430.06 592.95,430.24 594.25,430.43 595.54,430.62 596.84,430.81 598.13,431 599.43,431.19 600.72,431.37 602.02,431.55 603.31,431.73 604.61,431.9 605.9,432.07 607.2,432.24 608.49,432.41 609.79,432.58 611.08,432.74 612.38,432.9 613.67,433.06 614.97,433.22 616.26,433.37 617.56,433.51 618.85,433.65 620.15,433.78 621.44,433.91 622.74,434.03 624.03,434.15 625.33,434.26 626.62,434.37 627.92,434.47 629.21,434.58 630.51,434.68 631.8,434.78 633.1,434.89 634.39,434.99 635.69,435.1 636.98,435.21 638.27,435.33 639.57,435.44 640.86,435.56 642.16,435.67 643.45,435.79 644.75,435.9 646.04,436.01 647.34,436.12 648.63,436.22 649.93,436.33 651.22,436.42 652.52,436.51 653.81,436.6 655.11,436.69 656.4,436.77 657.7,436.85 658.99,436.93 660.29,437.01 661.58,437.09 662.88,437.17 664.17,437.25 665.47,437.33 666.76,437.41" fill="none" stroke="#ee2020" stroke-width="1.1" />
<polyline points="464.76,341.61 466.05,343.38 467.35,345.2 468.64,347.04 469.94,348.9 471.23,350.75 472.53,352.6 473.82,354.41 475.12,356.19 476.41,357.91 477.71,359.56 479,361.13 480.3,362.61 481.59,364.02 482.88,365.38 484.18,366.71 485.47,367.99 486.77,369.24 488.06,370.45 489.36,371.63 490.65,372.77 491.95,373.89 493.24,374.97 494.54,376.03 495.83,377.06 497.13,378.06 498.42,379.04 499.72,379.99 501.01,380.92 502.31,381.83 503.6,382.72 504.9,383.58 506.19,384.42 507.49,385.25 508.78,386.05 510.08,386.84 511.37,387.61 512.67,388.37 513.96,389.11 515.26,389.83 516.55,390.54 517.85,391.24 519.14,391.92 520.44,392.59 521.73,393.24 523.03,393.87 524.32,394.49 525.62,395.1 526.91,395.69 528.21,396.27 529.5,396.82 530.8,397.37 532.09,397.89 533.39,398.41 534.68,398.92 535.98,399.42 537.27,399.91 538.57,400.41 539.86,400.9 541.16,401.39 542.45,401.89 543.75,402.4 545.04,402.9 546.34,403.42 547.63,403.93 548.93,404.43 550.22,404.94 551.52,405.43 552.81,405.92 554.11,406.4 555.4,406.86 556.7,407.3 557.99,407.73 559.28,408.14 560.58,408.55 561.87,408.95 563.17,409.34 564.46,409.72 565.76,410.1 567.05,410.46 568.35,410.81 569.64,411.15 570.94,411.49 572.23,411.81 573.53,412.12 574.82,412.41 576.12,412.69 577.41,412.96 578.71,413.22 580,413.47 581.3,413.72 582.59,413.96 583.89,414.2 585.18,414.45 586.48,414.7 587.77,414.95 589.07,415.22 590.36,415.49 591.66,415.76 592.95,416.04 594.25,416.33 595.54,416.61 596.84,416.9 598.13,417.18 599.43,417.47 600.72,417.76 602.02,418.04 603.31,418.33 604.61,418.61" fill="none" stroke="#111" stroke-width="1.1" />
<polygon points="418.14,287.25 414.39,293.75 421.89,293.75" fill="#fff" stroke="#ee2020" stroke-width="1.0" stroke-linejoin="miter"/>
<polygon points="418.14,287.25 418.14,293.75 421.89,293.75" fill="#ee2020"/>
<polygon points="433.68,342.5 429.93,348.99 437.43,348.99" fill="#fff" stroke="#ee2020" stroke-width="1.0" stroke-linejoin="miter"/>
<polygon points="433.68,342.5 433.68,348.99 437.43,348.99" fill="#ee2020"/>
<polygon points="449.22,369.7 445.47,376.2 452.97,376.2" fill="#fff" stroke="#ee2020" stroke-width="1.0" stroke-linejoin="miter"/>
<polygon points="449.22,369.7 449.22,376.2 452.97,376.2" fill="#ee2020"/>
<polygon points="464.76,385.86 461.01,392.36 468.51,392.36" fill="#fff" stroke="#ee2020" stroke-width="1.0" stroke-linejoin="miter"/>
<polygon points="464.76,385.86 464.76,392.36 468.51,392.36" fill="#ee2020"/>
<polygon points="480.3,396.75 476.55,403.24 484.05,403.24" fill="#fff" stroke="#ee2020" stroke-width="1.0" stroke-linejoin="miter"/>
<polygon points="480.3,396.75 480.3,403.24 484.05,403.24" fill="#ee2020"/>
<polygon points="495.83,404.33 492.08,410.83 499.58,410.83" fill="#fff" stroke="#ee2020" stroke-width="1.0" stroke-linejoin="miter"/>
<polygon points="495.83,404.33 495.83,410.83 499.58,410.83" fill="#ee2020"/>
<polygon points="511.37,410.6 507.62,417.09 515.12,417.09" fill="#fff" stroke="#ee2020" stroke-width="1.0" stroke-linejoin="miter"/>
<polygon points="511.37,410.6 511.37,417.09 515.12,417.09" fill="#ee2020"/>
<polygon points="526.91,414.89 523.16,421.38 530.66,421.38" fill="#fff" stroke="#ee2020" stroke-width="1.0" stroke-linejoin="miter"/>
<polygon points="526.91,414.89 526.91,421.38 530.66,421.38" fill="#ee2020"/>
<polygon points="542.45,418.32 538.7,424.81 546.2,424.81" fill="#fff" stroke="#ee2020" stroke-width="1.0" stroke-linejoin="miter"/>
<polygon points="542.45,418.32 542.45,424.81 546.2,424.81" fill="#ee2020"/>
<polygon points="557.99,421.48 554.24,427.98 561.74,427.98" fill="#fff" stroke="#ee2020" stroke-width="1.0" stroke-linejoin="miter"/>
<polygon points="557.99,421.48 557.99,427.98 561.74,427.98" fill="#ee2020"/>
<polygon points="573.53,424.29 569.78,430.78 577.28,430.78" fill="#fff" stroke="#ee2020" stroke-width="1.0" stroke-linejoin="miter"/>
<polygon points="573.53,424.29 573.53,430.78 577.28,430.78" fill="#ee2020"/>
<polygon points="589.07,426.3 585.32,432.79 592.82,432.79" fill="#fff" stroke="#ee2020" stroke-width="1.0" stroke-linejoin="miter"/>
<polygon points="589.07,426.3 589.07,432.79 592.82,432.79" fill="#ee2020"/>
<polygon points="604.61,428.51 600.86,435 608.36,435" fill="#fff" stroke="#ee2020" stroke-width="1.0" stroke-linejoin="miter"/>
<polygon points="604.61,428.51 604.61,435 608.36,435" fill="#ee2020"/>
<polygon points="620.15,430.39 616.4,436.88 623.9,436.88" fill="#fff" stroke="#ee2020" stroke-width="1.0" stroke-linejoin="miter"/>
<polygon points="620.15,430.39 620.15,436.88 623.9,436.88" fill="#ee2020"/>
<polygon points="635.69,431.71 631.94,438.2 639.44,438.2" fill="#fff" stroke="#ee2020" stroke-width="1.0" stroke-linejoin="miter"/>
<polygon points="635.69,431.71 635.69,438.2 639.44,438.2" fill="#ee2020"/>
<polygon points="651.22,433.03 647.47,439.52 654.97,439.52" fill="#fff" stroke="#ee2020" stroke-width="1.0" stroke-linejoin="miter"/>
<polygon points="651.22,433.03 651.22,439.52 654.97,439.52" fill="#ee2020"/>
<polygon points="666.76,434.01 663.01,440.51 670.51,440.51" fill="#fff" stroke="#ee2020" stroke-width="1.0" stroke-linejoin="miter"/>
<polygon points="666.76,434.01 666.76,440.51 670.51,440.51" fill="#ee2020"/>
<circle cx="464.76" cy="341.61" r="3.15" fill="url(#gblk)"/>
<circle cx="480.3" cy="362.61" r="3.15" fill="url(#gblk)"/>
<circle cx="495.83" cy="377.06" r="3.15" fill="url(#gblk)"/>
<circle cx="511.37" cy="387.61" r="3.15" fill="url(#gblk)"/>
<circle cx="526.91" cy="395.69" r="3.15" fill="url(#gblk)"/>
<circle cx="542.45" cy="401.89" r="3.15" fill="url(#gblk)"/>
<circle cx="557.99" cy="407.73" r="3.15" fill="url(#gblk)"/>
<circle cx="573.53" cy="412.12" r="3.15" fill="url(#gblk)"/>
<circle cx="589.07" cy="415.22" r="3.15" fill="url(#gblk)"/>
<circle cx="604.61" cy="418.61" r="3.15" fill="url(#gblk)"/>
<line x1="429.78" y1="286.03" x2="437.58" y2="286.03" stroke="#e850ee" stroke-width="0.9" />
<line x1="430.92" y1="283.28" x2="436.44" y2="288.79" stroke="#e850ee" stroke-width="0.9" />
<line x1="433.68" y1="282.13" x2="433.68" y2="289.93" stroke="#e850ee" stroke-width="0.9" />
<line x1="436.44" y1="283.28" x2="430.92" y2="288.79" stroke="#e850ee" stroke-width="0.9" />
<line x1="456.51" y1="334.18" x2="464.31" y2="334.18" stroke="#e850ee" stroke-width="0.9" />
<line x1="457.65" y1="331.43" x2="463.16" y2="336.94" stroke="#e850ee" stroke-width="0.9" />
<line x1="460.41" y1="330.28" x2="460.41" y2="338.08" stroke="#e850ee" stroke-width="0.9" />
<line x1="463.16" y1="331.43" x2="457.65" y2="336.94" stroke="#e850ee" stroke-width="0.9" />
<line x1="487.43" y1="379.37" x2="495.23" y2="379.37" stroke="#e850ee" stroke-width="0.9" />
<line x1="488.57" y1="376.61" x2="494.09" y2="382.12" stroke="#e850ee" stroke-width="0.9" />
<line x1="491.33" y1="375.47" x2="491.33" y2="383.27" stroke="#e850ee" stroke-width="0.9" />
<line x1="494.09" y1="376.61" x2="488.57" y2="382.12" stroke="#e850ee" stroke-width="0.9" />
<line x1="518.97" y1="390.91" x2="526.77" y2="390.91" stroke="#e850ee" stroke-width="0.9" />
<line x1="520.11" y1="388.15" x2="525.63" y2="393.67" stroke="#e850ee" stroke-width="0.9" />
<line x1="522.87" y1="387.01" x2="522.87" y2="394.81" stroke="#e850ee" stroke-width="0.9" />
<line x1="525.63" y1="388.15" x2="520.11" y2="393.67" stroke="#e850ee" stroke-width="0.9" />
<line x1="549.74" y1="395.69" x2="557.54" y2="395.69" stroke="#e850ee" stroke-width="0.9" />
<line x1="550.88" y1="392.93" x2="556.4" y2="398.45" stroke="#e850ee" stroke-width="0.9" />
<line x1="553.64" y1="391.79" x2="553.64" y2="399.59" stroke="#e850ee" stroke-width="0.9" />
<line x1="556.4" y1="392.93" x2="550.88" y2="398.45" stroke="#e850ee" stroke-width="0.9" />
<line x1="580.66" y1="393.22" x2="588.46" y2="393.22" stroke="#e850ee" stroke-width="0.9" />
<line x1="581.8" y1="390.46" x2="587.32" y2="395.98" stroke="#e850ee" stroke-width="0.9" />
<line x1="584.56" y1="389.32" x2="584.56" y2="397.12" stroke="#e850ee" stroke-width="0.9" />
<line x1="587.32" y1="390.46" x2="581.8" y2="395.98" stroke="#e850ee" stroke-width="0.9" />
<rect x="402.6" y="259.32" width="279.7" height="197.88" fill="none" stroke="#2a2a2a" stroke-width="1.35"/>
<line x1="418.14" y1="457.2" x2="418.14" y2="454.6" stroke="#2a2a2a" stroke-width="1.35" />
<line x1="433.68" y1="457.2" x2="433.68" y2="453" stroke="#2a2a2a" stroke-width="1.35" />
<text x="433.68" y="469.3" font-size="11" text-anchor="middle" fill="#222" >300</text>
<line x1="449.22" y1="457.2" x2="449.22" y2="454.6" stroke="#2a2a2a" stroke-width="1.35" />
<line x1="464.76" y1="457.2" x2="464.76" y2="454.6" stroke="#2a2a2a" stroke-width="1.35" />
<line x1="480.3" y1="457.2" x2="480.3" y2="453" stroke="#2a2a2a" stroke-width="1.35" />
<text x="480.3" y="469.3" font-size="11" text-anchor="middle" fill="#222" >600</text>
<line x1="495.83" y1="457.2" x2="495.83" y2="454.6" stroke="#2a2a2a" stroke-width="1.35" />
<line x1="511.37" y1="457.2" x2="511.37" y2="454.6" stroke="#2a2a2a" stroke-width="1.35" />
<line x1="526.91" y1="457.2" x2="526.91" y2="453" stroke="#2a2a2a" stroke-width="1.35" />
<text x="526.91" y="469.3" font-size="11" text-anchor="middle" fill="#222" >900</text>
<line x1="542.45" y1="457.2" x2="542.45" y2="454.6" stroke="#2a2a2a" stroke-width="1.35" />
<line x1="557.99" y1="457.2" x2="557.99" y2="454.6" stroke="#2a2a2a" stroke-width="1.35" />
<line x1="573.53" y1="457.2" x2="573.53" y2="453" stroke="#2a2a2a" stroke-width="1.35" />
<text x="573.53" y="469.3" font-size="11" text-anchor="middle" fill="#222" >1200</text>
<line x1="589.07" y1="457.2" x2="589.07" y2="454.6" stroke="#2a2a2a" stroke-width="1.35" />
<line x1="604.61" y1="457.2" x2="604.61" y2="454.6" stroke="#2a2a2a" stroke-width="1.35" />
<line x1="620.15" y1="457.2" x2="620.15" y2="453" stroke="#2a2a2a" stroke-width="1.35" />
<text x="620.15" y="469.3" font-size="11" text-anchor="middle" fill="#222" >1500</text>
<line x1="635.69" y1="457.2" x2="635.69" y2="454.6" stroke="#2a2a2a" stroke-width="1.35" />
<line x1="651.22" y1="457.2" x2="651.22" y2="454.6" stroke="#2a2a2a" stroke-width="1.35" />
<line x1="666.76" y1="457.2" x2="666.76" y2="453" stroke="#2a2a2a" stroke-width="1.35" />
<text x="666.76" y="469.3" font-size="11" text-anchor="middle" fill="#222" >1800</text>
<text x="398.3" y="461" font-size="11" text-anchor="end" fill="#222" >0</text>
<line x1="402.6" y1="440.71" x2="405" y2="440.71" stroke="#2a2a2a" stroke-width="1.35" />
<line x1="402.6" y1="424.22" x2="406.8" y2="424.22" stroke="#2a2a2a" stroke-width="1.35" />
<text x="398.3" y="428.02" font-size="11" text-anchor="end" fill="#222" >1</text>
<line x1="402.6" y1="407.73" x2="405" y2="407.73" stroke="#2a2a2a" stroke-width="1.35" />
<line x1="402.6" y1="391.24" x2="406.8" y2="391.24" stroke="#2a2a2a" stroke-width="1.35" />
<text x="398.3" y="395.04" font-size="11" text-anchor="end" fill="#222" >2</text>
<line x1="402.6" y1="374.75" x2="405" y2="374.75" stroke="#2a2a2a" stroke-width="1.35" />
<line x1="402.6" y1="358.26" x2="406.8" y2="358.26" stroke="#2a2a2a" stroke-width="1.35" />
<text x="398.3" y="362.06" font-size="11" text-anchor="end" fill="#222" >3</text>
<line x1="402.6" y1="341.77" x2="405" y2="341.77" stroke="#2a2a2a" stroke-width="1.35" />
<line x1="402.6" y1="325.28" x2="406.8" y2="325.28" stroke="#2a2a2a" stroke-width="1.35" />
<text x="398.3" y="329.08" font-size="11" text-anchor="end" fill="#222" >4</text>
<line x1="402.6" y1="308.79" x2="405" y2="308.79" stroke="#2a2a2a" stroke-width="1.35" />
<line x1="402.6" y1="292.3" x2="406.8" y2="292.3" stroke="#2a2a2a" stroke-width="1.35" />
<text x="398.3" y="296.1" font-size="11" text-anchor="end" fill="#222" >5</text>
<line x1="402.6" y1="275.81" x2="405" y2="275.81" stroke="#2a2a2a" stroke-width="1.35" />
<text x="398.3" y="263.12" font-size="11" text-anchor="end" fill="#222" >6</text>
<line x1="546.1" y1="284.9" x2="571.5" y2="284.9" stroke="#111" stroke-width="1.0" />
<circle cx="559.3" cy="284.9" r="3" fill="url(#gblk)"/>
<line x1="546.1" y1="298.5" x2="571.5" y2="298.5" stroke="#ee2020" stroke-width="1.0" />
<polygon points="559.3,294.86 555.8,300.92 562.8,300.92" fill="#fff" stroke="#ee2020" stroke-width="1.0" stroke-linejoin="miter"/>
<polygon points="559.3,294.86 559.3,300.92 562.8,300.92" fill="#ee2020"/>
<line x1="555.7" y1="312" x2="562.9" y2="312" stroke="#e850ee" stroke-width="0.9" />
<line x1="556.75" y1="309.45" x2="561.85" y2="314.55" stroke="#e850ee" stroke-width="0.9" />
<line x1="559.3" y1="308.4" x2="559.3" y2="315.6" stroke="#e850ee" stroke-width="0.9" />
<line x1="561.85" y1="309.45" x2="556.75" y2="314.55" stroke="#e850ee" stroke-width="0.9" />
<text x="575.9" y="288.9" font-size="11" text-anchor="start" fill="#222" >Debye-Callaway</text>
<text x="575.9" y="302.5" font-size="11" text-anchor="start" fill="#222" >SMRT-LBTE</text>
<text x="575.9" y="316" font-size="11" text-anchor="start" fill="#222" >Expt.-Ref.[30]</text>
<text x="423.6" y="407.8" font-size="13" text-anchor="start" fill="#222" font-style="italic">κ<tspan font-size="8.9" dy="5">min</tspan></text>
<text transform="translate(15.6,106.4) rotate(-90)" font-size="14.5" text-anchor="middle" fill="#222">Thermal Conductivity (W·m<tspan font-size="7.2" dy="-8.0">-1</tspan><tspan dy="8.0">·K</tspan><tspan font-size="7.2" dy="-8.0">-1</tspan><tspan dy="8.0">)</tspan></text>
<text transform="translate(16,358.3) rotate(-90)" font-size="14.5" text-anchor="middle" fill="#222">Thermal Conductivity (W·m<tspan font-size="7.2" dy="-8.0">-1</tspan><tspan dy="8.0">·K</tspan><tspan font-size="7.2" dy="-8.0">-1</tspan><tspan dy="8.0">)</tspan></text>
<text transform="translate(381.2,359.6) rotate(-90)" font-size="14.8" text-anchor="middle" fill="#222">Thermal Conductivity (W·m<tspan font-size="7.2" dy="-8.0">-1</tspan><tspan dy="8.0">·K</tspan><tspan font-size="7.2" dy="-8.0">-1</tspan><tspan dy="8.0">)</tspan></text>
<text x="185.8" y="239.8" font-size="14.4" text-anchor="middle" fill="#222" >Temperature (K)</text>
<text x="186.2" y="491.2" font-size="14.4" text-anchor="middle" fill="#222" >Temperature (K)</text>
<text x="542.6" y="492.1" font-size="14.4" text-anchor="middle" fill="#222" >Temperature (K)</text>
<text x="3" y="237.6" font-size="18" fill="#111" transform="translate(3,0) scale(0.98,1) translate(-3,0)">(a)</text>
<text x="367.6" y="237.2" font-size="18" fill="#111" transform="translate(367.6,0) scale(0.98,1) translate(-367.6,0)">(b)</text>
<text x="3.4" y="489.8" font-size="18" fill="#111" transform="translate(3.4,0) scale(0.98,1) translate(-3.4,0)">(c)</text>
<text x="367.2" y="489.5" font-size="18" fill="#111" transform="translate(367.2,0) scale(0.98,1) translate(-367.2,0)">(d)</text>
</svg></body></html>
